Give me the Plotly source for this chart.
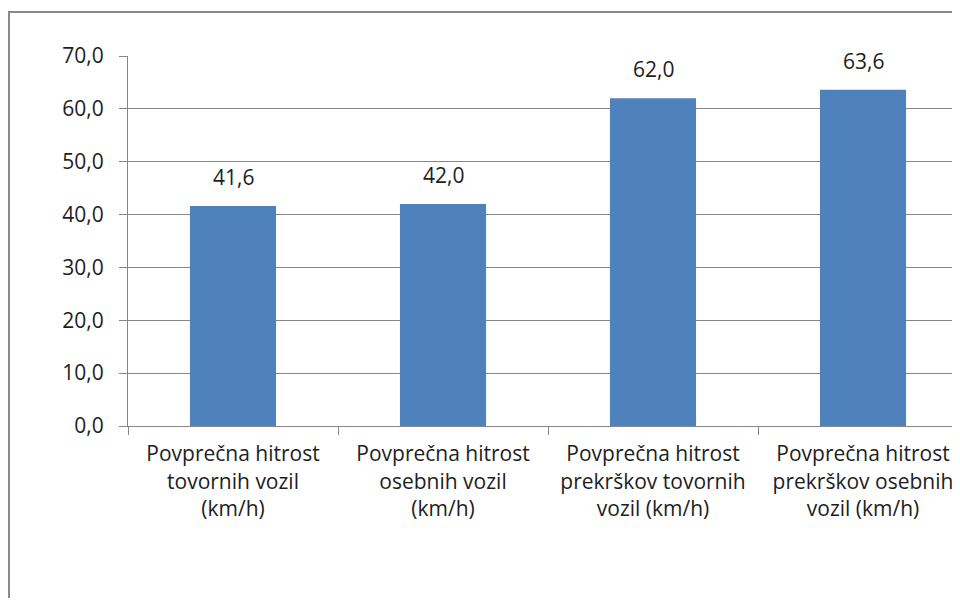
import plotly.graph_objects as go

categories = [
    "Povprečna hitrost<br>tovornih vozil<br>(km/h)",
    "Povprečna hitrost<br>osebnih vozil<br>(km/h)",
    "Povprečna hitrost<br>prekrškov tovornih<br>vozil (km/h)",
    "Povprečna hitrost<br>prekrškov osebnih<br>vozil (km/h)",
]
values = [41.6, 42.0, 62.0, 63.6]
y_ticks = [0, 10, 20, 30, 40, 50, 60, 70]

FONT = "'Open Sans', Lato, 'Liberation Sans', sans-serif"
FS = 21
TXT = "#1e1e1e"
GRID = "#868686"

# page body has an 8px margin; figure coordinates are screen minus 8
FW, FH = 952, 590
L, T = 120, 48
PLOT_BOTTOM = 418
B = FH - PLOT_BOTTOM
W, H = FW - L, PLOT_BOTTOM - T
CAT_W = 210  # pixel width of one category slot

fig = go.Figure()
fig.add_trace(go.Bar(
    x=categories, y=values,
    marker=dict(color="#4F81BD", line=dict(width=0)),
    hoverinfo="skip",
))

for c, v in zip(categories, values):
    fig.add_annotation(
        x=c, y=v, text=f"{v:.1f}".replace(".", ","), showarrow=False,
        yanchor="bottom", yshift=13, font=dict(family=FONT, size=FS, color=TXT),
    )

def px(x):
    return (x - L) / W
def py(y):
    return 1 - (y - T) / H

# outer chart frame (only left and top edges are inside the visible crop)
fig.add_shape(type="line", xref="paper", yref="paper",
              x0=px(1), x1=px(1), y0=py(FH), y1=py(3),
              line=dict(color="#8a8a8a", width=2), layer="below")
fig.add_shape(type="line", xref="paper", yref="paper",
              x0=px(0), x1=px(FW), y0=py(4), y1=py(4),
              line=dict(color="#8a8a8a", width=2), layer="below")

fig.update_layout(
    width=FW, height=FH,
    margin=dict(l=L, r=0, t=T, b=B, pad=0),
    paper_bgcolor="white", plot_bgcolor="white",
    separators=",.",
    bargap=0.59,
    showlegend=False,
    font=dict(family=FONT, size=FS, color=TXT),
    xaxis=dict(
        type="category", range=[-0.5, -0.5 + W / CAT_W],
        showline=True, linecolor=GRID, linewidth=1,
        ticks="outside", tickson="boundaries", ticklen=8, tickcolor=GRID,
        showgrid=False, ticklabelstandoff=9,
        tickfont=dict(family=FONT, size=FS, color=TXT),
    ),
    yaxis=dict(
        range=[0, 70], tickvals=y_ticks, tickformat=".1f",
        showline=True, linecolor=GRID, linewidth=1,
        ticks="outside", ticklen=8, tickcolor=GRID,
        showgrid=True, gridcolor=GRID, gridwidth=1,
        zeroline=False, ticklabelstandoff=11,
        tickfont=dict(family=FONT, size=FS, color=TXT),
    ),
)

fig.write_html("out.html")
